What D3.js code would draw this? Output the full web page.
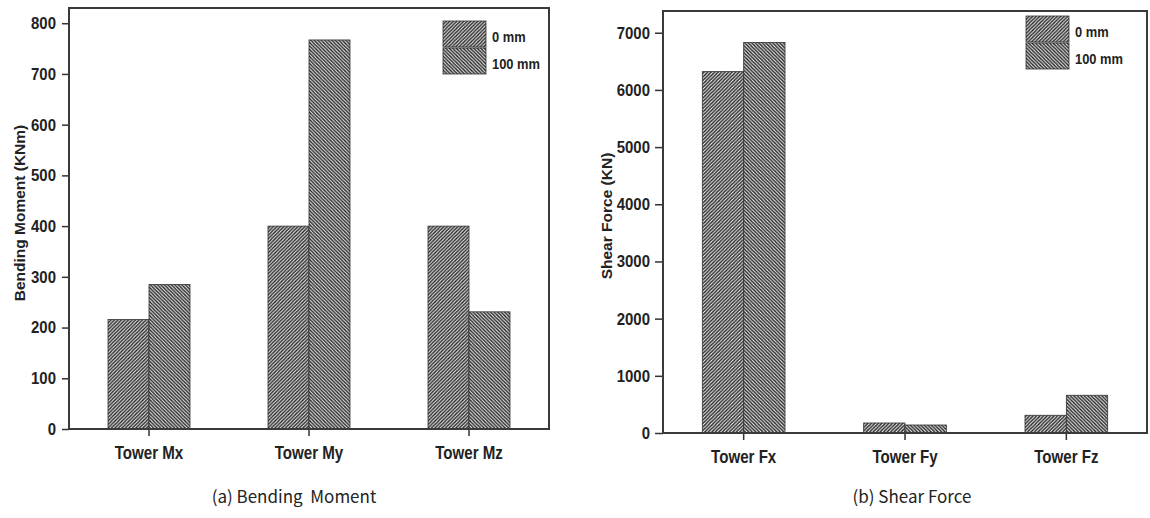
<!DOCTYPE html>
<html lang="en">
<head>
    <meta charset="utf-8" />
    <script src="https://d3js.org/d3.v7.min.js"></script>
    <title>Tower loads</title>
    <style>
        body { margin: 0; background: #fff; }
        svg text { font-family: 'Liberation Sans', Arial, sans-serif; }
        .tick-y { font-weight: bold; font-size: 17px; }
        .tick-x { font-weight: bold; font-size: 18px; }
        .ylab { font-weight: bold; font-size: 15.5px; }
        .leg { font-weight: bold; font-size: 14px; }
        .cap { font-family: 'Noto Sans CJK KR', 'Noto Sans', sans-serif !important; font-size: 17px; }
    </style>
</head>
<body>
<div id="chart"></div>
<script>
    // data
    var momentCats = ["Tower Mx", "Tower My", "Tower Mz"];
    var moment0 = [216, 400, 400];
    var moment100 = [285, 767, 231];
    var momentTicks = [0, 100, 200, 300, 400, 500, 600, 700, 800];

    var forceCats = ["Tower Fx", "Tower Fy", "Tower Fz"];
    var force0 = [6320, 175, 310];
    var force100 = [6830, 140, 660];
    var forceTicks = [0, 1000, 2000, 3000, 4000, 5000, 6000, 7000];

    var seriesNames = ["0 mm", "100 mm"];

    var svg = d3.select("#chart").append("svg")
        .attr("width", 1150)
        .attr("height", 518);

    // hatch patterns: "/" for 0 mm, "\" for 100 mm
    var defs = svg.append("defs");
    var hw = 3.5;
    function hatch(id, back) {
        var p = defs.append("pattern")
            .attr("id", id)
            .attr("patternUnits", "userSpaceOnUse")
            .attr("width", hw).attr("height", hw);
        p.append("rect").attr("width", hw).attr("height", hw).attr("fill", "#f6f6f6");
        var d = back
            ? "M-1,-1 L" + (hw + 1) + "," + (hw + 1) + " M" + (-hw - 1) + "," + (-1) + " L1," + (hw + 1) + " M" + (hw - 1) + ",-1 L" + (2 * hw + 1) + "," + (hw + 1)
            : "M-1," + (hw + 1) + " L" + (hw + 1) + ",-1 M" + (-hw - 1) + "," + (hw + 1) + " L1,-1 M" + (hw - 1) + "," + (hw + 1) + " L" + (2 * hw + 1) + ",-1";
        p.append("path").attr("d", d).attr("stroke", "#2a2a2a").attr("stroke-width", 1.4);
    }
    hatch("hatch0", false);
    hatch("hatch1", true);
    var fills = ["url(#hatch0)", "url(#hatch1)"];

    function drawPanel(cfg) {
        var w = cfg.x1 - cfg.x0, h = cfg.y1 - cfg.y0;
        var g = svg.append("g").attr("transform", "translate(" + cfg.x0 + "," + cfg.y0 + ")");

        var x = d3.scaleBand().domain(cfg.cats).range([0, w])
            .paddingInner(0.4875).paddingOuter(0.24375);
        var xs = d3.scaleBand().domain([0, 1]).range([0, x.bandwidth()]);
        var y = d3.scaleLinear().domain([0, cfg.max]).range([h, 0]);

        var rows = cfg.cats.map(function (c, i) {
            return { cat: c, vals: [cfg.s0[i], cfg.s1[i]] };
        });

        var grp = g.selectAll("g.grp").data(rows).enter().append("g")
            .attr("class", "grp")
            .attr("transform", function (d) { return "translate(" + x(d.cat) + ",0)"; });
        grp.selectAll("rect").data(function (d) { return d.vals; }).enter().append("rect")
            .attr("x", function (d, i) { return xs(i); })
            .attr("y", function (d) { return y(d); })
            .attr("width", xs.bandwidth())
            .attr("height", function (d) { return h - y(d); })
            .attr("fill", function (d, i) { return fills[i]; })
            .attr("stroke", "#333")
            .attr("stroke-width", 0.8);

        // axes
        var ya = g.append("g").call(d3.axisLeft(y).tickValues(cfg.ticks).tickFormat(d3.format("d")).tickSize(cfg.ytick));
        ya.selectAll("text").attr("class", "tick-y").attr("fill", "#222")
            .attr("x", 0)
            .attr("transform", "translate(-13,0) scale(0.88,1)");
        var xa = g.append("g").attr("transform", "translate(0," + h + ")")
            .call(d3.axisBottom(x).tickSize(7).tickPadding(10));
        xa.selectAll("text").attr("class", "tick-x").attr("fill", "#222")
            .attr("transform", "scale(0.84,1)");
        g.selectAll(".domain").remove();
        g.selectAll(".tick line").attr("stroke", "#333").attr("stroke-width", 1.5);

        // frame
        g.append("rect").attr("width", w).attr("height", h)
            .attr("fill", "none").attr("stroke", "#3a3a3a").attr("stroke-width", 2);

        // y label
        g.append("text").attr("class", "ylab")
            .attr("transform", "translate(" + cfg.labX + "," + cfg.labY + ") rotate(-90)")
            .attr("text-anchor", "middle").attr("fill", "#222")
            .text(cfg.label);

        // legend
        var lg = g.append("g").attr("transform", "translate(" + cfg.legX + "," + cfg.legY + ")");
        seriesNames.forEach(function (s, i) {
            lg.append("rect").attr("x", 0).attr("y", i * 27)
                .attr("width", 43).attr("height", 26)
                .attr("fill", fills[i]).attr("stroke", "#333").attr("stroke-width", 0.8);
            lg.append("text").attr("class", "leg")
                .attr("transform", "translate(49," + (i * 27 + 20.5) + ") scale(0.92,1)")
                .attr("fill", "#222").text(s);
        });

        // caption
        svg.append("text").attr("class", "cap")
            .attr("x", cfg.capX).attr("y", 503)
            .attr("text-anchor", "middle").attr("fill", "#222")
            .attr("xml:space", "preserve")
            .text(cfg.caption);
    }

    drawPanel({
        cats: momentCats, s0: moment0, s1: moment100, ticks: momentTicks, max: 830,
        x0: 69, x1: 549, y0: 8, y1: 429, ytick: 7,
        label: "Bending Moment (KNm)", labX: -44, labY: 205,
        legX: 374, legY: 13,
        caption: "(a) Bending  Moment", capX: 294
    });

    drawPanel({
        cats: forceCats, s0: force0, s1: force100, ticks: forceTicks, max: 7380,
        x0: 663, x1: 1147, y0: 11, y1: 433, ytick: 8,
        label: "Shear Force (KN)", labX: -51, labY: 205,
        legX: 363, legY: 5,
        caption: "(b) Shear Force", capX: 912
    });
</script>
</body>
</html>
